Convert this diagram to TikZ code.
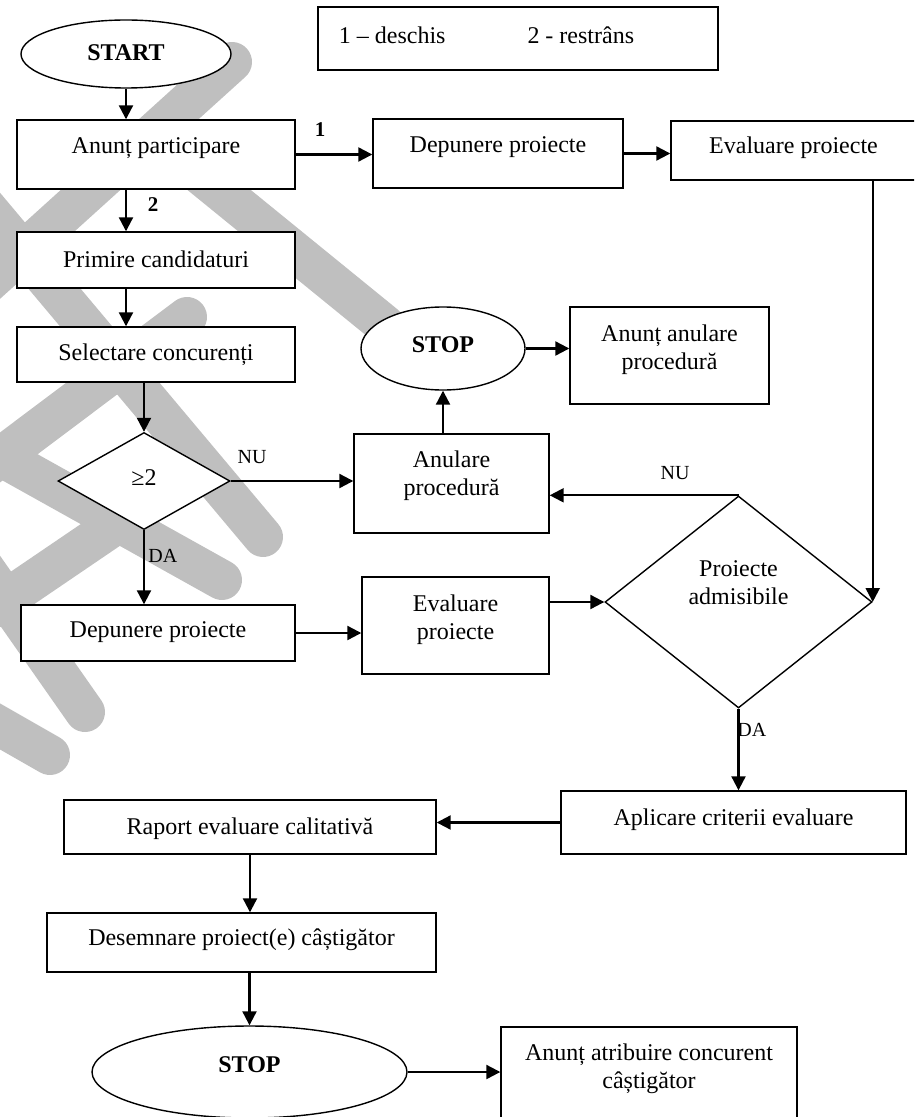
\documentclass[tikz,border=0pt]{standalone}
\usepackage{fontspec}
\setmainfont{Liberation Serif}
\usetikzlibrary{arrows.meta,shapes.geometric}

\begin{document}
\begin{tikzpicture}[x=0.5pt, y=-0.5pt,
    font=\fontsize{12}{14}\selectfont,
    every label/.style={align=center, inner sep=0pt},
    box/.style={draw, fill=white, line width=0.7pt, inner sep=0pt},
    term/.style={ellipse, draw, fill=white, line width=0.7pt, inner sep=0pt},
    decision/.style={diamond, draw, fill=white, line width=0.7pt, inner sep=0pt},
    tag/.style={font=\fontsize{10}{12}\selectfont, inner sep=0pt},
    wmark/.style={line width=20pt, line cap=round, black!25}]

  \useasboundingbox (0,0) rectangle (914,1117);
  \clip (0,0) rectangle (914,1117);

  % watermark behind the chart
  \begin{scope}[wmark]
    \draw (232,62) -- (-20,290);
    \draw (170,150) -- (385,325);
    \draw (-20,200) -- (263,537);
    \draw (187,317) -- (-30,480);
    \draw (-20,445) -- (222,580);
    \draw (-10,610) -- (115,525);
    \draw (-20,562) -- (85,712);
    \draw (-20,715) -- (50,755);
  \end{scope}

  % legend
  \node[box, minimum width=200pt, minimum height=31.5pt,
    label={[xshift=-15.75pt, yshift=1.75pt]center:1 -- deschis\hspace{41pt}2 - restrâns}] (legend) at (518,38.5) {};

  % left column
  \node[term, minimum width=105pt, minimum height=34pt,
    label={[yshift=0.5pt]center:\textbf{START}}] (start) at (126,54) {};
  \node[box, minimum width=139pt, minimum height=34.5pt,
    label={[yshift=3.25pt]center:Anunț participare}] (anunt) at (156,154.5) {};
  \node[box, minimum width=139pt, minimum height=28pt,
    label={[yshift=0.5pt]center:Primire candidaturi}] (primire) at (156,260) {};
  \node[box, minimum width=139pt, minimum height=27.5pt,
    label={[yshift=-0.25pt]center:Selectare concurenți}] (selectare) at (156,354.5) {};
  \node[decision, minimum width=86pt, minimum height=48.5pt,
    label={[yshift=1.5pt]center:≥2}] (dia1) at (144,481) {};
  \node[box, minimum width=137pt, minimum height=28pt,
    label={[yshift=0.5pt]center:Depunere proiecte}] (depB) at (158,633) {};

  % top row
  \node[box, minimum width=125pt, minimum height=34.5pt,
    label={[yshift=3.25pt]center:Depunere proiecte}] (depA) at (498,153.5) {};
  \node[box, minimum width=122.5pt, minimum height=29.5pt,
    label={[yshift=1.25pt]center:Evaluare proiecte}] (evalA) at (793.5,150.5) {};

  % cancel branch
  \node[term, minimum width=82pt, minimum height=41.5pt,
    label={[yshift=2pt]center:\textbf{STOP}}] (stopA) at (443,348.5) {};
  \node[box, minimum width=99.5pt, minimum height=48.5pt,
    label={[yshift=3pt]center:Anunț anulare\\procedură}] (anuntAn) at (669.5,355.5) {};
  \node[box, minimum width=97.5pt, minimum height=49.5pt,
    label={[yshift=4pt]center:Anulare\\procedură}] (anulare) at (451.5,483.5) {};
  \node[box, minimum width=93.5pt, minimum height=48.5pt,
    label={[yshift=3pt]center:Evaluare\\proiecte}] (evalB) at (455.5,625.5) {};
  \node[decision, minimum width=133.5pt, minimum height=106pt,
    label={[yshift=9.5pt]center:Proiecte\\admisibile}] (dia2) at (738.5,602) {};

  % bottom part
  \node[box, minimum width=172.5pt, minimum height=31.5pt,
    label={[yshift=1.5pt]center:Aplicare criterii evaluare}] (aplicare) at (733.5,822.5) {};
  \node[box, minimum width=186pt, minimum height=27pt,
    label={[yshift=-1pt]center:Raport evaluare calitativă}] (raport) at (250,827) {};
  \node[box, minimum width=194.5pt, minimum height=29.5pt,
    label={[yshift=1.25pt]center:Desemnare proiect(e) câștigător}] (desemnare) at (241.5,942.5) {};
  \node[term, minimum width=157.5pt, minimum height=46pt,
    label={[yshift=3.5pt]center:\textbf{STOP}}] (stopB) at (249.5,1072) {};
  \node[box, minimum width=148pt, minimum height=47.5pt,
    label={[yshift=3pt]center:Anunț atribuire concurent\\câștigător}] (anuntAtr) at (649,1074.5) {};

  % branch marks
  \node[tag, font=\fontsize{10.5}{12}\selectfont\bfseries] (one) at (320,130) {1};
  \node[tag, font=\fontsize{10.5}{12}\selectfont\bfseries] (two) at (153,205) {2};
  \node[tag] (nuA) at (252,457) {NU};
  \node[tag] (nuB) at (675,473) {NU};
  \node[tag, anchor=west] (daA) at (148,556) {DA};
  \node[tag, anchor=west] (daB) at (737,730) {DA};

  % connectors
  \begin{scope}[every edge/.style={draw, line width=1.1pt,
      -{Triangle[length=7pt,width=7pt]}}]
    \path (start.south) edge (start.south |- anunt.north);
    \path (anunt.south -| start) edge (primire.north -| start);
    \path (primire.south -| start) edge (selectare.north -| start);
    \path (dia1.north |- selectare.south) edge (dia1.north);
    \path (anunt.east) edge (anunt.east -| depA.west);
    \path (depA.east) edge (depA.east -| evalA.west);
    \path (dia2.east |- evalA.south) edge (dia2.east);
    \path (dia1.east) edge (dia1.east -| anulare.west);
    \path (stopA.south |- anulare.north) edge (stopA.south);
    \path (stopA.east) edge (stopA.east -| anuntAn.west);
    \path (dia2.north) edge (dia2.north -| anulare.east);
    \path (dia1.south) edge (dia1.south |- depB.north);
    \path (depB.east) edge (depB.east -| evalB.west);
    \path (evalB.east |- dia2.west) edge (dia2.west);
    \path (dia2.south) edge (dia2.south |- aplicare.north);
    \path (aplicare.west) edge (aplicare.west -| raport.east);
    \path (raport.south) edge (raport.south |- desemnare.north);
    \path (desemnare.south -| stopB) edge (stopB.north);
    \path (stopB.east) edge (stopB.east -| anuntAtr.west);
  \end{scope}
\end{tikzpicture}
\end{document}
